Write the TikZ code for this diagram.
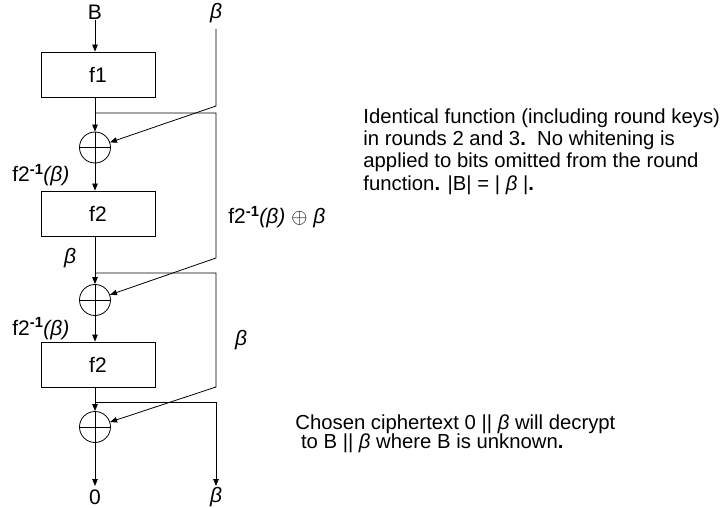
\documentclass[tikz,border=0pt]{standalone}
\usepackage{fontspec}
\setmainfont{Liberation Sans}
\usetikzlibrary{arrows.meta}
% inverse round function label and the italic beta
\newcommand{\bet}{\textit{β}}
\newcommand{\finv}{f2\textsuperscript{\textbf{-1}}\textit{(β)}}
\begin{document}
\begin{tikzpicture}[x=1pt,y=-1pt,line width=0.8pt,
  lbl/.style={font=\fontsize{21}{24}\selectfont, inner sep=0pt},
  note/.style={font=\fontsize{20.3}{22.4}\selectfont, inner sep=0pt, align=left},
  fbox/.style={draw, minimum width=114pt, minimum height=45pt, inner sep=0pt,
    font=\fontsize{21}{24}\selectfont},
  xor/.style={circle, draw, minimum size=31pt, inner sep=0pt,
    path picture={\draw (path picture bounding box.north) -- (path picture bounding box.south)
      (path picture bounding box.west) -- (path picture bounding box.east);}},
  arr/.style={-{Triangle[length=7pt,width=5.5pt]}}]
\useasboundingbox (0,0) rectangle (721,508);

% inputs
\node[lbl] (B) at (95,12) {B};
\node[lbl] (bin) at (216,13) {\bet};
\coordinate (bintop) at (216,29);
\coordinate (bbend) at (216,106);

% left branch
\node[fbox] (f1) at (98,74.5) {f1};
\node[xor] (x1) at (95,147.5) {};
\node[fbox] (f2a) at (98,213.5) {f2};
\node[xor] (x2) at (95,300) {};
\node[fbox] (f2b) at (98,364.5) {f2};
\node[xor] (x3) at (95,427) {};
\node[lbl] (out0) at (95,497) {0};
\node[lbl] (outb) at (216,497) {\bet};

% branch points
\coordinate (j1) at (95,113);
\coordinate (r1) at (216,113);
\coordinate (r1b) at (216,258);
\coordinate (j2) at (95,273);
\coordinate (r2) at (216,273);
\coordinate (r2b) at (216,387);
\coordinate (j3) at (95,402);
\coordinate (r3) at (216,402);
\coordinate (o0) at (95,486);
\coordinate (ob) at (216,486);

% main path
\draw[arr] (B.south) -- (f1.north -| B);
\draw[arr] (f1.south -| x1) -- (x1.north);
\draw[arr] (x1.south) -- (f2a.north -| x1);
\draw[arr] (f2a.south -| x2) -- (x2.north);
\draw[arr] (x2.south) -- (f2b.north -| x2);
\draw[arr] (f2b.south -| x3) -- (x3.north);
\draw[arr] (x3.south) -- (o0);

% right path
\draw[arr] (bintop) -- (bbend) -- (x1);
\draw[arr] (j1) -- (r1) -- (r1b) -- (x2);
\draw[arr] (j2) -- (r2) -- (r2b) -- (x3);
\draw[arr] (j3) -- (r3) -- (ob);

% labels
\node[lbl, anchor=base west] (l1) at (12,182) {\finv};
\node[lbl, anchor=base west] (l2) at (12,335) {\finv};
\node[lbl, anchor=base west] (l3) at (228,224) {\finv\ $\oplus$ \bet};
\node[lbl] (l4) at (70,258) {\bet};
\node[lbl] (l5) at (241,340) {\bet};

% notes
\node[note, anchor=north west] (n1) at (363,108)
  {Identical function (including round keys)\\
   in rounds 2 and 3\textbf{.}\ \ No whitening is\\
   applied to bits omitted from the round\\
   function\textbf{.} |B| = | \bet\ |\textbf{.}};
\node[note, anchor=north west, font=\fontsize{20.3}{19.5}\selectfont] (n2) at (295,414)
  {Chosen ciphertext 0 || \bet\ will decrypt\\
   \ to B || \bet\ where B is unknown\textbf{.}};
\end{tikzpicture}
\end{document}
